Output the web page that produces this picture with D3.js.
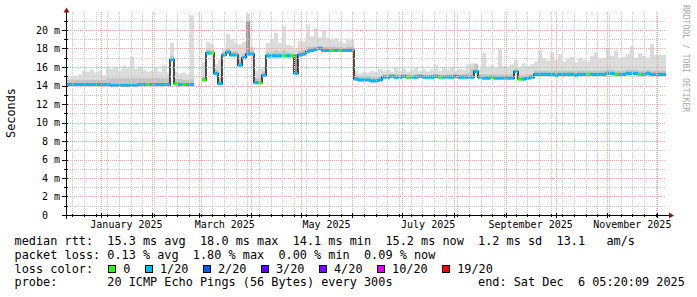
<!DOCTYPE html>
<html>
<head>
<meta charset="utf-8">
<script src="https://cdn.jsdelivr.net/npm/d3@7/dist/d3.min.js"></script>
<style>
  body { margin: 0; background: #fff; }
  svg { display: block; }
  text { font-family: "DejaVu Sans Mono", monospace; }
</style>
</head>
<body>
<svg id="chart" width="697" height="297"></svg>
<script>
// ---- data (ms, one value per 2.4 day bucket) ----
var endTime = new Date(Date.UTC(2025, 11, 6, 5, 20, 9));
var spanDays = 360;
var stepDays = 2.4;

var median = [
  14.1,14.1,14.1,14.1,14.1,14.1,14.1,14.1,14.1,14.1,
  14.1,14.0,14.0,14.0,14.0,14.0,14.0,14.0,14.1,14.1,
  14.1,14.1,14.1,14.1,14.1,14.1,16.8,14.2,14.1,14.1,
  14.1,14.1,null,null,14.6,17.5,17.5,15.3,14.2,17.3,
  17.6,17.3,17.3,16.2,17.0,17.4,17.4,14.3,14.3,15.1,
  17.2,17.2,17.2,17.2,17.2,17.2,17.2,15.3,17.3,17.4,
  17.7,17.8,17.9,18.0,17.8,17.8,17.8,17.8,17.8,17.8,
  17.8,17.8,14.7,14.6,14.6,14.6,14.5,14.5,14.6,14.9,
  14.9,15.0,14.9,14.9,15.0,14.9,14.9,14.9,15.0,14.9,
  14.9,14.9,15.0,14.9,14.9,14.9,14.9,15.0,14.9,14.9,
  14.9,14.9,15.5,14.9,14.8,14.8,14.9,14.8,14.8,14.8,
  14.8,14.8,15.5,14.7,14.7,14.8,14.9,15.2,15.2,15.2,
  15.2,15.2,15.1,15.2,15.2,15.2,15.2,15.1,15.2,15.2,
  15.2,15.2,15.2,15.2,15.2,15.3,15.3,15.2,15.2,15.2,
  15.3,15.3,15.3,15.2,15.2,15.3,15.2,15.2,15.2,15.2
];

// index into lossNames for each bucket
var lossIdx = [
  1,1,1,1,1,1,1,1,1,1,
  1,1,1,1,1,1,1,1,1,1,
  0,1,1,1,1,1,1,0,1,0,
  1,1,null,null,0,1,0,1,1,1,
  1,1,1,1,1,1,1,1,0,1,
  1,1,1,1,0,1,0,1,1,1,
  1,1,1,1,1,1,0,1,0,1,
  1,1,1,1,1,1,1,1,1,1,
  1,1,1,1,1,0,1,1,1,1,
  1,1,1,0,1,1,1,1,1,1,
  1,1,1,1,1,1,0,1,1,1,
  1,1,1,0,1,1,1,1,1,1,
  1,1,1,1,1,1,1,1,1,1,
  0,1,1,1,1,1,1,0,1,1,
  1,1,1,0,1,1,1,1,1,1
];

// top of the denser (darker) smoke
var smokeMid = [
  14.6,14.6,14.6,14.6,14.6,14.6,14.6,14.6,14.6,14.6,
  14.8,14.8,14.8,14.8,14.8,14.8,14.8,14.8,14.8,14.8,
  14.8,14.8,14.8,14.8,14.8,14.8,17.2,14.7,14.7,14.6,
  14.6,14.7,null,null,15.0,17.9,17.8,15.7,14.8,17.6,
  18.0,17.7,17.7,17.0,17.4,21.0,17.8,14.8,14.8,15.5,
  17.6,17.6,17.8,17.6,17.8,17.6,17.5,17.4,17.7,17.8,
  18.2,18.2,18.2,18.3,18.2,18.2,18.2,18.2,18.2,18.1,
  18.2,18.2,15.1,15.0,15.0,15.0,14.9,14.9,15.0,15.2,
  15.2,15.2,15.2,15.1,15.2,15.2,15.1,15.2,15.2,15.2,
  15.1,15.2,15.2,15.2,15.1,15.2,15.2,15.2,15.2,15.2,
  15.3,15.8,16.3,15.2,15.2,15.2,15.2,15.2,15.2,15.2,
  15.2,15.2,15.8,15.1,15.1,15.2,15.2,15.6,15.6,15.6,
  15.6,15.6,15.6,15.6,15.6,15.6,15.6,15.6,15.6,15.6,
  15.6,15.6,15.6,15.6,15.6,15.7,15.7,15.6,15.6,15.6,
  15.7,15.7,15.7,15.6,15.6,15.7,15.6,15.6,15.6,15.6
];

// top of the smoke (max ping)
var smokeMax = [
  14.9,15.0,15.0,15.2,15.6,15.5,15.7,15.4,15.6,15.1,
  16.0,15.8,16.0,15.6,16.1,15.9,17.1,15.8,16.0,15.7,
  15.5,15.6,16.0,15.5,16.2,15.4,18.6,15.5,15.3,15.4,
  15.2,21.6,null,null,16.5,18.7,18.5,16.3,16.8,18.0,
  19.6,19.0,18.6,18.4,18.7,21.8,18.2,15.6,15.8,16.0,
  18.6,19.0,19.7,18.6,20.4,18.4,18.3,18.0,18.8,18.8,
  20.5,19.3,20.2,19.2,20.0,19.2,19.0,19.1,18.8,18.6,
  19.0,18.9,15.6,15.3,15.5,15.4,15.6,15.5,15.8,15.6,
  15.7,15.5,15.9,15.6,15.8,15.5,15.7,16.0,15.6,15.8,
  15.5,15.7,16.2,15.6,15.9,15.7,16.0,15.6,15.8,15.7,
  16.3,16.4,16.4,15.8,17.5,16.0,16.2,15.9,18.0,16.1,
  15.9,16.3,16.8,16.0,16.4,16.1,16.3,16.6,17.8,16.9,
  16.7,17.6,16.8,17.4,16.6,16.9,17.1,16.5,17.0,16.8,
  16.6,17.2,17.6,16.9,17.0,18.0,17.2,17.8,16.9,17.1,
  17.4,18.3,17.0,17.5,17.2,17.0,18.5,17.3,17.3,17.3
];

var yTicks = [0, 2, 4, 6, 8, 10, 12, 14, 16, 18, 20];
var monthLabels = ["January 2025", "March 2025", "May 2025", "July 2025", "September 2025", "November 2025"];
var lossNames = ["0", "1/20", "2/20", "3/20", "4/20", "10/20", "19/20"];
var lossColors = ["#26ff00", "#00b8ff", "#0059ff", "#5e00ff", "#7e00ff", "#dd00ff", "#ff0000"];

var legendLines = [
  "median rtt:  15.3 ms avg  18.0 ms max  14.1 ms min  15.2 ms now  1.2 ms sd  13.1   am/s",
  "packet loss: 0.13 % avg  1.80 % max  0.00 % min  0.09 % now",
  "loss color:",
  "probe:       20 ICMP Echo Pings (56 Bytes) every 300s            end: Sat Dec  6 05:20:09 2025"
];

// ---- layout ----
var svg = d3.select("#chart"),
    plot = {left: 66, right: 666, top: 11.5, bottom: 215};

var day = 864e5;
var startTime = new Date(endTime.getTime() - spanDays * day);
var x = d3.scaleTime().domain([startTime, endTime]).range([plot.left, plot.right]);
var y = d3.scaleLinear().domain([0, 22]).range([plot.bottom, plot.top]);

var data = median.map(function(m, i) {
  return {
    t0: new Date(startTime.getTime() + i * stepDays * day),
    t1: new Date(startTime.getTime() + (i + 1) * stepDays * day),
    m: m, loss: lossIdx[i], mid: smokeMid[i], max: smokeMax[i]
  };
});

svg.append("rect").attr("width", 697).attr("height", 297).attr("fill", "#fff");

svg.append("defs").append("clipPath").attr("id", "clip")
  .append("rect").attr("x", plot.left).attr("y", plot.top)
  .attr("width", plot.right - plot.left).attr("height", plot.bottom - plot.top);

var g = svg.append("g").attr("clip-path", "url(#clip)");

// smoke
g.selectAll(".smokeHi")
  .data(data.filter(function(d) { return d.m != null; }))
  .enter().append("rect")
  .attr("x", function(d) { return x(d.t0); })
  .attr("width", function(d) { return x(d.t1) - x(d.t0); })
  .attr("y", function(d) { return y(d.max); })
  .attr("height", function(d) { return y(d.m) - y(d.max); })
  .attr("fill", "#dcdcdc");

g.selectAll(".smokeLo")
  .data(data.filter(function(d) { return d.m != null; }))
  .enter().append("rect")
  .attr("x", function(d) { return x(d.t0); })
  .attr("width", function(d) { return x(d.t1) - x(d.t0); })
  .attr("y", function(d) { return y(d.mid); })
  .attr("height", function(d) { return y(d.m) - y(d.mid); })
  .attr("fill", function(d) { return d.mid - d.m > 2 ? "#9a9a9a" : "#c4c4c4"; });

// grid
var minorCol = "#cccccc", majorCol = "#f4a4a4";
var gridG = svg.append("g");
d3.range(1, 22).forEach(function(v) {
  gridG.append("line")
    .attr("x1", plot.left).attr("x2", plot.right)
    .attr("y1", Math.round(y(v)) + 0.5).attr("y2", Math.round(y(v)) + 0.5)
    .attr("stroke", v % 2 ? minorCol : majorCol)
    .attr("stroke-dasharray", "1,1");
});
var months = d3.utcMonth.range(startTime, endTime);
d3.utcSunday.range(startTime, endTime).forEach(function(t) {
  var xx = Math.round(x(t)) + 0.5;
  gridG.append("line").attr("x1", xx).attr("x2", xx)
    .attr("y1", plot.bottom).attr("y2", plot.top)
    .attr("stroke", minorCol).attr("stroke-dasharray", "1,1");
});
months.forEach(function(t) {
  var xx = Math.round(x(t)) + 0.5;
  gridG.append("line").attr("x1", xx).attr("x2", xx)
    .attr("y1", plot.bottom).attr("y2", plot.top)
    .attr("stroke", majorCol).attr("stroke-dasharray", "1,1");
});

// median line (black) and loss colour band
var pts = [];
data.forEach(function(d) {
  if (d.m == null) { pts.push(null); return; }
  pts.push({t: d.t0, m: d.m});
  pts.push({t: d.t1, m: d.m});
});
var line = d3.line()
  .defined(function(d) { return d != null; })
  .x(function(d) { return x(d.t); })
  .y(function(d) { return y(d.m); });
g.append("path").datum(pts)
  .attr("d", line).attr("fill", "none")
  .attr("stroke", "#202020").attr("stroke-width", 1.6);

g.selectAll(".band")
  .data(data.filter(function(d) { return d.m != null; }))
  .enter().append("rect")
  .attr("x", function(d) { return x(d.t0); })
  .attr("width", function(d) { return x(d.t1) - x(d.t0); })
  .attr("y", function(d) { return y(d.m) - 1.6; })
  .attr("height", 3.2)
  .attr("fill", function(d) { return lossColors[d.loss]; });

// axes
var ax = svg.append("g");
ax.append("line").attr("x1", 62).attr("x2", 670)
  .attr("y1", plot.bottom + 0.5).attr("y2", plot.bottom + 0.5).attr("stroke", "#000");
ax.append("line").attr("x1", plot.left + 0.5).attr("x2", plot.left + 0.5)
  .attr("y1", 219).attr("y2", 12).attr("stroke", "#000");
ax.append("path").attr("d", "M669,212.5L674,215.5L669,218.5Z").attr("fill", "#8b1a1a");
ax.append("path").attr("d", "M63.5,12.5L66.5,7.5L69.5,12.5Z").attr("fill", "#8b1a1a");

d3.range(0, 22).forEach(function(v) {
  var yy = Math.round(y(v)) + 0.5;
  ax.append("line").attr("x1", v % 2 ? 64 : 62).attr("x2", 68)
    .attr("y1", yy).attr("y2", yy).attr("stroke", "#000");
});
d3.utcSunday.range(startTime, endTime).forEach(function(t) {
  var xx = Math.round(x(t)) + 0.5;
  ax.append("line").attr("x1", xx).attr("x2", xx)
    .attr("y1", plot.bottom - 1).attr("y2", plot.bottom + 2).attr("stroke", "#000");
});
months.forEach(function(t) {
  var xx = Math.round(x(t)) + 0.5;
  ax.append("line").attr("x1", xx).attr("x2", xx)
    .attr("y1", plot.bottom - 2).attr("y2", plot.bottom + 3).attr("stroke", "#000");
});

ax.selectAll(".ylab").data(yTicks).enter().append("text")
  .attr("x", function(d) { return d === 0 ? 60 - 2 * 6.02 : 60; })
  .attr("y", function(d) { return y(d) + 3.8; })
  .attr("text-anchor", "end")
  .attr("font-size", 10)
  .attr("fill", "#000")
  .text(function(d) { return d === 0 ? "0" : d + " m"; });

var labelMonths = d3.utcMonth.every(2).range(new Date(Date.UTC(2025, 0, 1)), endTime);
ax.selectAll(".xlab").data(labelMonths).enter().append("text")
  .attr("x", function(d, i) { return (x(d) + x(d3.utcMonth.offset(d, 1))) / 2; })
  .attr("y", 228)
  .attr("text-anchor", "middle")
  .attr("font-size", 10)
  .attr("fill", "#000")
  .text(function(d, i) { return monthLabels[i]; });

svg.append("text")
  .attr("transform", "translate(14.5,113) rotate(-90)")
  .attr("text-anchor", "middle")
  .attr("font-size", 11.85)
  .text("Seconds");

svg.append("text")
  .attr("transform", "translate(683,5) rotate(90)")
  .attr("font-size", 8.1)
  .attr("fill", "#aaa")
  .text("RRDTOOL / TOBI OETIKER");

// legend
var cw = 7.13, lx = 14.6, baselines = [245, 258.7, 272.5, 286];
legendLines.forEach(function(s, i) {
  svg.append("text")
    .attr("x", lx).attr("y", baselines[i])
    .attr("font-size", 11.85)
    .style("white-space", "pre")
    .attr("fill", "#000")
    .text(s);
});

var bx = 108.3;
lossNames.forEach(function(name, i) {
  svg.append("rect")
    .attr("x", Math.round(bx) + 0.5).attr("y", 265.5)
    .attr("width", 7).attr("height", 7)
    .attr("fill", lossColors[i]).attr("stroke", "#000");
  svg.append("text")
    .attr("x", bx + 15).attr("y", baselines[2])
    .attr("font-size", 11.85).attr("fill", "#000")
    .text(name);
  bx = bx + 15 + name.length * cw + 14.5;
});
</script>
</body>
</html>
